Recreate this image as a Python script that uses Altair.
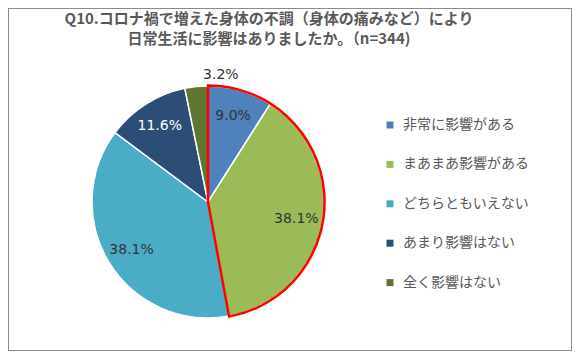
import altair as alt
import pandas as pd

categories = ["非常に影響がある", "まあまあ影響がある", "どちらともいえない", "あまり影響はない", "全く影響はない"]
values = [9.0, 38.1, 38.1, 11.6, 3.2]
colors = ["#4F81BD", "#9BBB59", "#4BACC6", "#2C4D75", "#5F7530"]
title_lines = ["Q10.コロナ禍で増えた身体の不調（身体の痛みなど）により",
               "日常生活に影響はありましたか。（n=344)"]
highlighted = categories[:2]

df = pd.DataFrame({"cat": categories, "value": values, "idx": list(range(len(categories)))})
df["label"] = [f"{v:.1f}%" for v in values]
outline_df = pd.DataFrame({"value": [sum(v for c, v in zip(categories, values) if c in highlighted)]})

W, H = 564, 343
CX, CY, R = 200, 194, 116

color_scale = alt.Scale(domain=categories, range=colors)

pie = alt.Chart(df).mark_arc(radius=R, stroke="white", strokeWidth=1.5).encode(
    theta=alt.Theta("value:Q", stack=True),
    order=alt.Order("idx:Q"),
    x=alt.value(CX), y=alt.value(CY),
    color=alt.Color("cat:N", sort=categories, scale=color_scale,
                    legend=alt.Legend(title=None, orient="none", legendX=375, legendY=110,
                                      symbolType="square", symbolSize=49, symbolStrokeWidth=0,
                                      labelFontSize=14, labelFont="Noto Sans CJK JP",
                                      labelColor="#595959", rowPadding=25.4, labelOffset=6,
                                      padding=0)),
)

labels = alt.Chart(df).transform_calculate(
    r="datum.value < 5 ? 128 : 90"
).mark_text(font="DejaVu Sans", fontSize=14, align="center", baseline="middle").encode(
    theta=alt.Theta("value:Q", stack=True),
    order=alt.Order("idx:Q"),
    radius=alt.Radius("r:Q", scale=None),
    x=alt.value(CX), y=alt.value(CY),
    text="label:N",
    color=alt.condition(alt.datum.cat == categories[3], alt.value("white"), alt.value("#333333")),
)

outline = alt.Chart(outline_df).mark_arc(radius=R + 0.5, fillOpacity=0, stroke="#FF0000",
                                         strokeWidth=2.5, strokeJoin="miter").encode(
    theta=alt.Theta("value:Q", stack=True),
    x=alt.value(CX), y=alt.value(CY),
)

t1 = alt.Chart(pd.DataFrame({"t": [title_lines[0]]})).mark_text(
    font="Noto Sans CJK JP", fontSize=15, fontWeight="bold", color="#595959",
    align="center", baseline="middle").encode(text="t:N", x=alt.value(261), y=alt.value(11))
t2 = alt.Chart(pd.DataFrame({"t": [title_lines[1]]})).mark_text(
    font="Noto Sans CJK JP", fontSize=15, fontWeight="bold", color="#595959",
    align="center", baseline="middle").encode(text="t:N", x=alt.value(261), y=alt.value(31))

chart = alt.layer(pie, outline, labels, t1, t2).properties(
    width=W, height=H, autosize=alt.AutoSizeParams(type="none"), padding=0
).configure_view(stroke="#8C8C8C", strokeWidth=2)

chart.save("out.html", embed_options={"renderer": "svg", "actions": False})
